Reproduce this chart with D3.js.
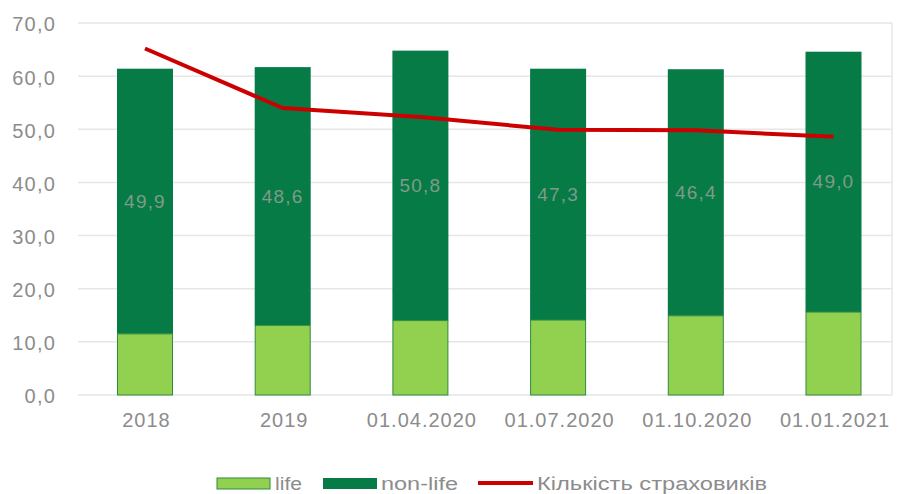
<!DOCTYPE html>
<html>
<head>
<meta charset="utf-8">
<script src="https://cdn.jsdelivr.net/npm/d3@7"></script>
<style>
  html, body { margin: 0; padding: 0; background: #fff; }
  svg { display: block; }
  text { font-family: "Liberation Sans", Arial, sans-serif; }
</style>
</head>
<body>
<svg id="chart" width="906" height="494"></svg>
<script>
const categories = ["2018", "2019", "01.04.2020", "01.07.2020", "01.10.2020", "01.01.2021"];
const life = [11.5, 13.1, 14.0, 14.1, 14.9, 15.6];
const nonLife = [49.9, 48.6, 50.8, 47.3, 46.4, 49.0];
const insurers = [65.2, 54.0, 52.3, 49.9, 49.8, 48.6];
const yTicks = [0, 10, 20, 30, 40, 50, 60, 70];
const seriesNames = ["life", "non-life", "Кількість страховиків"];

const colors = { life: "#92d050", nonLife: "#077b45", line: "#cc0000", grid: "#e6e6e6", text: "#8c8c8c" };

const svg = d3.select("#chart");
const fmt = v => d3.format(".1f")(v).replace(".", ",");

const y = d3.scaleLinear().domain([0, 70]).range([395, 23]);
const x = d3.scalePoint().domain(categories).range([145, 833.5]);
const barW = 56;
const plotL = 78, plotR = 892;

// gridlines
svg.append("g").selectAll("line").data(yTicks).join("line")
  .attr("x1", plotL).attr("x2", plotR)
  .attr("y1", d => y(d)).attr("y2", d => y(d))
  .attr("stroke", colors.grid).attr("stroke-width", 1.5);
svg.append("line").attr("x1", plotR).attr("x2", plotR).attr("y1", y(70)).attr("y2", y(0))
  .attr("stroke", colors.grid).attr("stroke-width", 1.5);

// y axis labels
const yAxis = d3.axisLeft(y).tickValues(yTicks).tickFormat(fmt).tickSize(0).tickPadding(0);
const gy = svg.append("g").attr("transform", "translate(56,1.5)").call(yAxis);
gy.select(".domain").remove();
gy.selectAll("text").attr("font-size", 20).attr("fill", colors.text)
  .attr("font-family", "Liberation Sans, Arial, sans-serif").attr("letter-spacing", 1.2);

// x axis labels
const xAxis = d3.axisBottom(x).tickSize(0).tickPadding(0);
const gx = svg.append("g").attr("transform", "translate(1,413)").call(xAxis);
gx.select(".domain").remove();
gx.selectAll("text").attr("font-size", 20).attr("fill", colors.text)
  .attr("font-family", "Liberation Sans, Arial, sans-serif").attr("letter-spacing", 1.0);

// bars
const data = categories.map((c, i) => ({ c, life: life[i], nonLife: nonLife[i] }));
const stack = d3.stack().keys(["life", "nonLife"])(data);

svg.append("g").selectAll("rect").data(stack[1]).join("rect")
  .attr("x", d => x(d.data.c) - barW / 2).attr("width", barW)
  .attr("y", d => y(d[1])).attr("height", d => y(d[0]) - y(d[1]))
  .attr("fill", colors.nonLife);

svg.append("g").selectAll("rect").data(stack[0]).join("rect")
  .attr("x", d => x(d.data.c) - barW / 2 + 0.5).attr("width", barW - 1)
  .attr("y", d => y(d[1])).attr("height", d => y(d[0]) - y(d[1]))
  .attr("fill", colors.life).attr("stroke", "#2f8a3e").attr("stroke-width", 1);

// data labels
svg.append("g").selectAll("text").data(stack[1]).join("text")
  .attr("x", d => x(d.data.c)).attr("y", d => (y(d[0]) + y(d[1])) / 2)
  .attr("text-anchor", "middle").attr("dominant-baseline", "central")
  .attr("font-size", 19).attr("letter-spacing", 1.2).attr("fill", "#7f9a8a")
  .text(d => fmt(d.data.nonLife));

// line
const line = d3.line().x((d, i) => x(categories[i])).y(d => y(d));
svg.append("path").datum(insurers).attr("d", line)
  .attr("fill", "none").attr("stroke", colors.line).attr("stroke-width", 4)
  .attr("stroke-linejoin", "round");

// legend
const lg = svg.append("g").attr("font-size", 18).attr("fill", colors.text);
lg.append("rect").attr("x", 217).attr("y", 478).attr("width", 53).attr("height", 11)
  .attr("fill", colors.life).attr("stroke", "#2f8a3e").attr("stroke-width", 1);
lg.append("text").attr("x", 275).attr("y", 484).attr("dominant-baseline", "central")
  .attr("textLength", 27).attr("lengthAdjust", "spacingAndGlyphs").text(seriesNames[0]);
lg.append("rect").attr("x", 323).attr("y", 478).attr("width", 54).attr("height", 11)
  .attr("fill", colors.nonLife);
lg.append("text").attr("x", 381).attr("y", 484).attr("dominant-baseline", "central")
  .attr("textLength", 77).attr("lengthAdjust", "spacingAndGlyphs").text(seriesNames[1]);
lg.append("line").attr("x1", 478).attr("x2", 533).attr("y1", 483).attr("y2", 483)
  .attr("stroke", colors.line).attr("stroke-width", 4);
lg.append("text").attr("x", 537).attr("y", 484).attr("dominant-baseline", "central")
  .attr("textLength", 230).attr("lengthAdjust", "spacingAndGlyphs").text(seriesNames[2]);
</script>
</body>
</html>
